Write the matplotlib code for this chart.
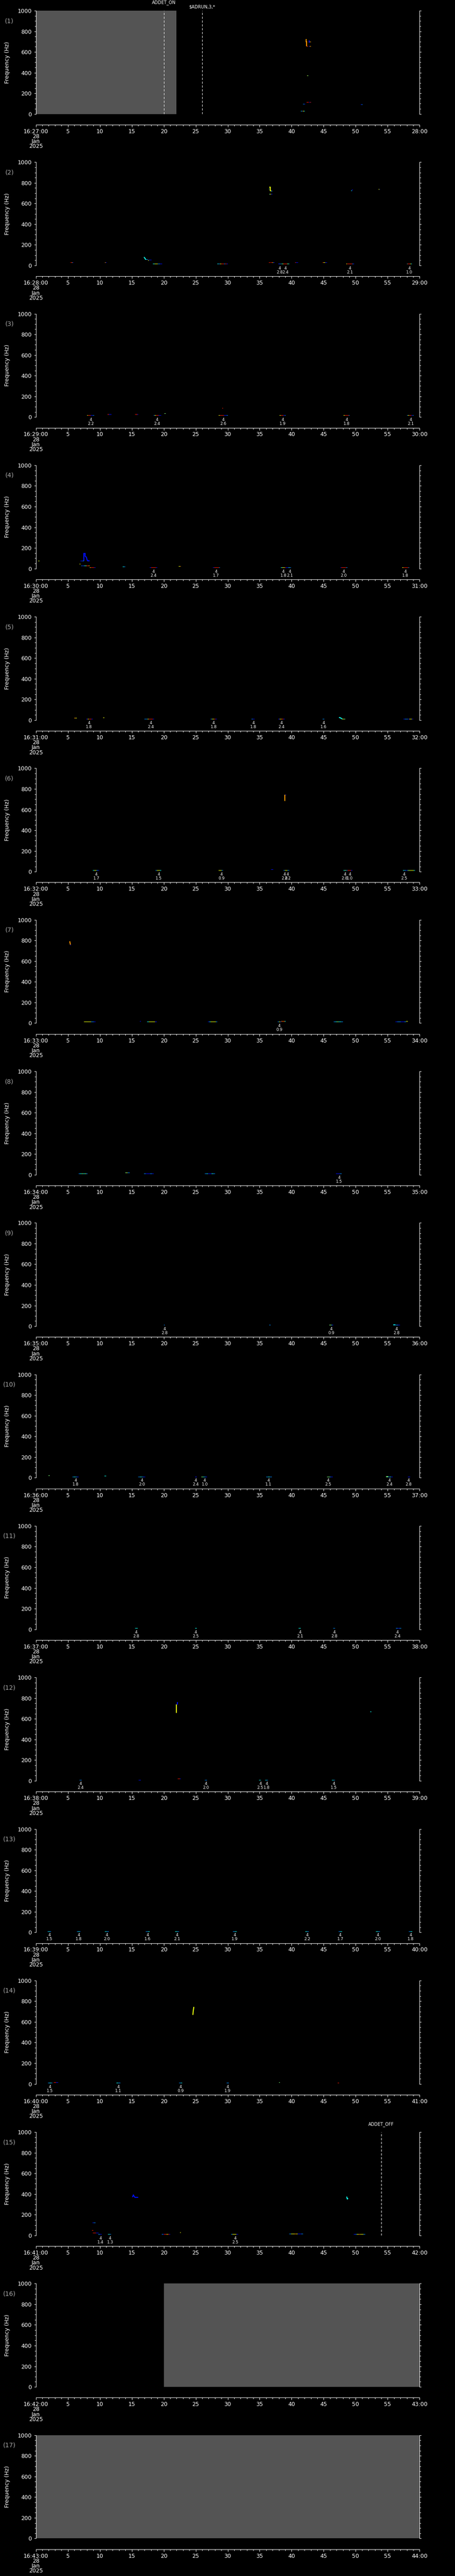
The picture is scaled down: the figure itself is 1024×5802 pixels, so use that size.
import matplotlib
matplotlib.use('Agg')
import matplotlib.pyplot as plt
from matplotlib.ticker import MultipleLocator

W, H, DPI = 1024, 5802, 100
NP = 17
PANEL_H = H / NP

# ---------------- data ----------------
minutes = list(range(27, 44))          # 16:27 ... 16:43, one panel per minute
date_lines = ['28', 'Jan', '2025']

# jet-colour codes for spectrogram cells
code_level = {'n': 0.06, 'b': 0.14, 'l': 0.26, 'c': 0.37, 'g': 0.50,
              'y': 0.63, 'o': 0.75, 'r': 0.88, 'd': 0.97}

# horizontal spectrogram blips: (panel, t_start[s], t_end[s], freq[Hz], colour codes)
blips = [
    (1, 41.4, 42.05, 27, 'cbyc'), (1, 41.8, 42.1, 97, 'lb'), (1, 42.3, 43.0, 113, 'rrdbr'),
    (1, 42.4, 42.6, 371, 'yg'), (1, 42.35, 42.55, 655, 'r'), (1, 42.7, 43.0, 655, 'bo'),
    (1, 42.85, 43.0, 695, 'o'), (1, 50.8, 51.1, 93, 'bl'),
    (2, 5.4, 5.86, 26, 'dryb'), (2, 10.8, 11.1, 30, 'ob'), (2, 17.2, 17.5, 57, 'cl'),
    (2, 17.5, 17.7, 50, 'y'), (2, 17.7, 18.1, 52, 'bb'), (2, 18.3, 19.75, 17, 'cgyyllbb'),
    (2, 28.4, 30.0, 17, 'clyrrlrb'), (2, 36.4, 36.5, 742, 'c'), (2, 36.8, 36.95, 720, 'l'),
    (2, 36.5, 36.95, 690, 'gyb'), (2, 36.45, 37.3, 27, 'rdryb'), (2, 37.9, 38.3, 17, 'bl'),
    (2, 38.4, 39.6, 17, 'cyrrrrgc'), (2, 40.5, 41.0, 26, 'rbb'), (2, 44.8, 45.5, 26, 'ryybb'),
    (2, 49.3, 49.5, 722, 'cb'), (2, 49.45, 49.55, 733, 'b'), (2, 53.6, 53.8, 739, 'yb'),
    (2, 48.5, 49.8, 17, 'yrrrrrlb'), (2, 58.0, 58.8, 17, 'crrryc'),
    (3, 8.0, 9.1, 15, 'yrrbbl'), (3, 11.2, 11.8, 25, 'rbb'), (3, 15.5, 16.0, 26, 'rrb'),
    (3, 18.4, 19.6, 15, 'lyrrbb'), (3, 20.1, 20.3, 32, 'g'), (3, 29.1, 29.3, 83, 'r'),
    (3, 28.6, 30.0, 15, 'yrrrbbl'), (3, 38.1, 39.1, 15, 'yrrbl'), (3, 48.1, 49.1, 15, 'yrrrl'),
    (3, 58.0, 59.1, 15, 'lyrrbl'),
    (4, 0.4, 0.6, 75, 'yg'), (4, 7.0, 7.5, 75, 'bbl'), (4, 6.85, 7.0, 43, 'y'),
    (4, 7.1, 8.4, 25, 'lblcgrro'), (4, 8.4, 9.3, 10, 'yrrrb'), (4, 13.6, 14.0, 19, 'cl'),
    (4, 17.8, 19.0, 10, 'brrrrb'), (4, 22.3, 22.7, 20, 'yo'), (4, 27.7, 28.8, 10, 'brrrrl'),
    (4, 38.3, 39.9, 10, 'cyyrbbcl'), (4, 47.6, 48.7, 10, 'brrrrl'), (4, 57.3, 58.4, 10, 'yrrrrl'),
    (5, 6.0, 6.4, 19, 'oy'), (5, 7.9, 8.9, 11, 'byrrb'), (5, 10.5, 10.7, 22, 'y'),
    (5, 17.0, 18.5, 11, 'llyrrrb'), (5, 27.3, 28.3, 11, 'lyyrb'), (5, 33.7, 34.2, 11, 'lb'),
    (5, 37.9, 38.9, 11, 'byorb'), (5, 44.8, 45.1, 11, 'l'), (5, 47.9, 48.4, 11, 'yg'),
    (5, 57.5, 59.0, 11, 'bllbyyb'),
    (6, 8.9, 9.9, 11, 'cyylb'), (6, 18.7, 19.6, 11, 'lyyc'), (6, 28.6, 29.3, 11, 'yyl'),
    (6, 36.8, 37.1, 22, 'b'), (6, 38.7, 39.6, 11, 'lyyl'), (6, 38.95, 39.15, 743, 'bb'),
    (6, 48.1, 49.5, 11, 'cglrrrb'), (6, 57.4, 59.3, 11, 'clbgyyyc'),
    (7, 5.35, 5.5, 758, 'b'), (7, 7.5, 9.3, 11, 'yyyyyllb'), (7, 16.3, 16.4, 19, 'b'),
    (7, 17.4, 18.9, 11, 'cyyyyb'), (7, 26.9, 28.4, 11, 'bcyyyyl'), (7, 37.8, 38.4, 11, 'lyb'),
    (7, 38.4, 39.1, 19, 'oroc'), (7, 46.6, 48.0, 11, 'lcgccl'), (7, 56.2, 57.9, 11, 'bllbbl'),
    (7, 57.9, 58.2, 19, 'y'),
    (8, 6.7, 8.1, 8, 'lcgcgl'), (8, 14.0, 14.7, 18, 'gyll'), (8, 16.9, 18.4, 8, 'lbbblb'),
    (8, 26.4, 28.0, 8, 'lcbbcl'), (8, 46.9, 47.8, 8, 'bbbl'),
    (9, 20.0, 20.2, 10, 'l'), (9, 36.5, 36.7, 10, 'l'), (9, 45.9, 46.5, 10, 'gglb'),
    (9, 55.9, 56.9, 10, 'cllb'), (9, 55.9, 56.2, 14, 'c'),
    (10, 2.0, 2.2, 20, 'g'), (10, 5.7, 6.7, 8, 'lclb'), (10, 10.7, 11.0, 15, 'c'),
    (10, 16.0, 17.1, 8, 'lclb'), (10, 24.9, 25.2, 8, 'b'), (10, 25.9, 26.8, 8, 'gclb'),
    (10, 36.0, 36.9, 8, 'lcl'), (10, 45.5, 46.4, 8, 'gglb'), (10, 54.8, 55.8, 8, 'glcb'),
    (10, 54.8, 55.1, 13, 'g'), (10, 58.2, 58.5, 8, 'b'),
    (11, 15.5, 15.9, 8, 'c'), (11, 24.9, 25.2, 8, 'c'), (11, 41.1, 41.4, 8, 'c'),
    (11, 46.5, 46.8, 8, 'l'), (11, 56.3, 57.1, 8, 'lbl'),
    (12, 6.8, 7.2, 8, 'l'), (12, 16.1, 16.4, 8, 'b'), (12, 22.2, 22.7, 19, 'rrb'),
    (12, 26.4, 26.8, 8, 'l'), (12, 34.9, 35.2, 8, 'c'), (12, 35.9, 36.3, 8, 'cl'),
    (12, 46.3, 46.8, 8, 'cl'), (12, 52.3, 52.5, 670, 'c'),
    (13, 1.8, 2.4, 8, 'lcl'), (13, 6.4, 7.0, 8, 'lcl'), (13, 10.8, 11.4, 8, 'cl'),
    (13, 17.2, 17.8, 8, 'lc'), (13, 21.8, 22.4, 8, 'cl'), (13, 30.8, 31.4, 8, 'lc'),
    (13, 42.1, 42.7, 8, 'cl'), (13, 47.3, 47.9, 8, 'lc'), (13, 53.2, 53.8, 8, 'cl'),
    (13, 58.3, 58.9, 8, 'lc'),
    (14, 1.9, 2.6, 8, 'lcl'), (14, 2.8, 3.5, 15, 'rb'), (14, 12.6, 13.2, 8, 'cl'),
    (14, 22.4, 22.9, 8, 'lc'), (14, 29.8, 30.2, 8, 'l'), (14, 38.0, 38.15, 14, 'g'),
    (14, 47.2, 47.4, 10, 'r'),
    (15, 8.85, 9.3, 123, 'bl'), (15, 8.8, 8.95, 50, 'r'), (15, 8.9, 9.85, 23, 'rrbb'),
    (15, 9.75, 10.3, 11, 'lb'), (15, 11.3, 11.75, 11, 'cl'), (15, 19.7, 21.0, 11, 'lbrroyrb'),
    (15, 22.5, 22.65, 27, 'y'), (15, 30.5, 31.6, 11, 'lyyyb'), (15, 39.6, 41.8, 15, 'lyyoybbl'),
    (15, 49.7, 51.5, 11, 'blyoyyl'),
]

# frequency tracks (chirps): (panel, colour code, times, freqs)
tracks = [
    (1, 'o', [42.2, 42.25, 42.25, 42.35, 42.35], [720, 720, 700, 700, 655]),
    (1, 'b', [42.72, 42.72, 42.85], [712, 695, 695]),
    (2, 'c', [16.9, 17.0, 17.1, 17.2], [81, 75, 65, 57]),
    (2, 'y', [36.5, 36.65, 36.65, 36.8], [758, 758, 725, 722]),
    (4, 'b', [7.5, 7.5, 7.7, 7.7, 7.9, 8.0, 8.1, 8.4], [75, 146, 146, 120, 110, 85, 75, 75]),
    (5, 'c', [47.4, 47.6, 47.8, 47.9], [26, 22, 15, 11]),
    (6, 'o', [38.95, 38.95], [685, 743]),
    (7, 'o', [5.3, 5.35, 5.4], [792, 775, 760]),
    (12, 'y', [22.0, 22.0], [657, 737]),
    (12, 'b', [22.1, 22.15], [737, 762]),
    (14, 'y', [24.55, 24.6, 24.7], [667, 700, 745]),
    (15, 'b', [15.1, 15.25, 15.4, 15.5, 16.0], [370, 390, 375, 368, 368]),
    (15, 'c', [48.6, 48.7, 48.8], [375, 350, 360]),
]

# detection notes below the panels: (panel, time, value)  -> "4" over value
notes = [
    (2, 38.1, '2.8'), (2, 39.0, '2.4'), (2, 49.1, '2.1'), (2, 58.4, '1.0'),
    (3, 8.6, '2.2'), (3, 18.95, '2.4'), (3, 29.3, '2.6'), (3, 38.6, '1.9'), (3, 48.6, '1.8'),
    (3, 58.6, '2.1'),
    (4, 18.4, '2.4'), (4, 28.2, '1.7'), (4, 38.7, '1.8'), (4, 39.7, '2.1'), (4, 48.1, '2.0'),
    (4, 57.8, '1.8'),
    (5, 8.3, '1.8'), (5, 18.0, '2.4'), (5, 27.8, '1.8'), (5, 34.0, '1.8'), (5, 38.4, '2.4'),
    (5, 45.0, '1.6'),
    (6, 9.45, '1.7'), (6, 19.2, '1.5'), (6, 29.0, '0.9'), (6, 38.9, '2.8'), (6, 39.4, '2.2'),
    (6, 48.3, '2.8'), (6, 49.1, '1.0'), (6, 57.6, '2.5'),
    (7, 38.05, '0.9'),
    (8, 47.4, '1.5'),
    (9, 20.1, '2.8'), (9, 46.2, '0.9'), (9, 56.4, '2.8'),
    (10, 6.2, '1.8'), (10, 16.6, '2.0'), (10, 25.0, '2.4'), (10, 26.4, '1.0'), (10, 36.4, '1.1'),
    (10, 45.7, '2.5'), (10, 55.3, '2.4'), (10, 58.3, '2.8'),
    (11, 15.7, '2.8'), (11, 25.0, '2.5'), (11, 41.3, '2.1'), (11, 46.7, '2.8'), (11, 56.5, '2.4'),
    (12, 7.0, '2.4'), (12, 26.6, '2.0'), (12, 35.1, '2.5'), (12, 36.1, '1.8'), (12, 46.6, '1.5'),
    (13, 2.1, '1.5'), (13, 6.7, '1.8'), (13, 11.1, '2.0'), (13, 17.5, '1.6'), (13, 22.1, '2.1'),
    (13, 31.1, '1.9'), (13, 42.4, '2.2'), (13, 47.6, '1.7'), (13, 53.5, '2.0'), (13, 58.6, '1.8'),
    (14, 2.2, '1.5'), (14, 12.9, '1.1'), (14, 22.65, '0.9'), (14, 30.0, '1.9'),
    (15, 10.1, '1.4'), (15, 11.6, '1.3'), (15, 31.2, '2.5'),
]

# no-data (grey) intervals: (panel, t_start, t_end)
gaps = [(1, 0, 22.0), (16, 20.0, 60.0), (17, 0.0, 60.0)]

# event markers: (panel, time, label, label row)
events = [(1, 20.0, 'ADDET_ON', 0), (1, 26.0, '$ADRUN,3,*', 1), (15, 54.0, 'ADDET_OFF', 0)]

# ---------------- drawing ----------------
cmap = plt.get_cmap('jet')
GREY = '#545454'
px2pt = 72.0 / DPI
HZ_PER_PX = 1000.0 / 232.7

fig = plt.figure(figsize=(W / DPI, H / DPI), dpi=DPI, facecolor='black')

for i, mnt in enumerate(minutes):
    pnum = i + 1
    off = i * PANEL_H
    top, bot = off + 24.0, off + 256.7
    ax = fig.add_axes([80.7 / W, 1 - bot / H, 863.6 / W, (bot - top) / H])
    ax.set_facecolor('black')
    ax.set_xlim(0, 60)
    ax.set_ylim(0, 1000)
    ax.spines['top'].set_visible(False)
    for s in ('left', 'right', 'bottom'):
        ax.spines[s].set_color('white')
        ax.spines[s].set_linewidth(1.0 * px2pt)
    ax.spines['bottom'].set_position(('outward', 24.3 * px2pt))

    # y axis
    ax.yaxis.set_major_locator(MultipleLocator(200))
    ax.yaxis.set_minor_locator(MultipleLocator(50))
    ax.tick_params(axis='y', which='major', direction='out', length=4 * px2pt,
                   width=1 * px2pt, colors='white', labelsize=9, left=True, right=True,
                   labelleft=True, labelright=False, pad=4)
    ax.tick_params(axis='y', which='minor', direction='out', length=2.7 * px2pt,
                   width=1 * px2pt, colors='white', left=True, right=True)
    ax.set_ylabel('Frequency (Hz)', color='white', fontsize=9)
    ax.yaxis.set_label_coords(-0.0668, 0.5)

    # x axis
    xt = list(range(0, 61, 5))
    xl = ['16:%02d:00\n' % mnt + '\n'.join(date_lines)] + [str(v) for v in xt[1:-1]] + \
         ['%02d:00' % (mnt + 1)]
    ax.set_xticks(xt, xl)
    ax.xaxis.set_minor_locator(MultipleLocator(1))
    ax.tick_params(axis='x', which='major', direction='out', length=4.7 * px2pt,
                   width=1 * px2pt, colors='white', labelsize=9, pad=3)
    ax.tick_params(axis='x', which='minor', direction='out', length=2.7 * px2pt,
                   width=1 * px2pt, colors='white')
    for lab in ax.get_xticklabels():
        lab.set_linespacing(0.82)

    # panel number
    ax.text(-0.069, 0.901, '(%d)' % pnum, transform=ax.transAxes, color='#a8a8a8',
            fontsize=10, ha='center', va='center')

    # grey no-data spans
    for p, t0, t1 in gaps:
        if p == pnum:
            ax.axvspan(t0, t1, color=GREY, lw=0, zorder=0.5)

    # blips
    for p, t0, t1, f, codes in blips:
        if p != pnum:
            continue
        dt = (t1 - t0) / len(codes)
        for k, c in enumerate(codes):
            ax.broken_barh([(t0 + k * dt, dt)], (f - 2.2, 4.4),
                           facecolors=cmap(code_level[c]), lw=0, antialiased=False, zorder=2)

    # tracks
    for p, c, ts, fs in tracks:
        if p == pnum:
            ax.plot(ts, fs, color=cmap(code_level[c]), lw=1.6, solid_capstyle='butt',
                    solid_joinstyle='miter', zorder=3)

    # notes
    for p, t, v in notes:
        if p == pnum:
            ax.text(t, -6.5 * HZ_PER_PX, '4', color='white', fontsize=6.5, ha='center',
                    va='center', clip_on=False)
            ax.text(t, -15.5 * HZ_PER_PX, v, color='white', fontsize=6.5, ha='center',
                    va='center', clip_on=False)

    # events
    for p, t, lab, row in events:
        if p == pnum:
            ax.axvline(t, color='white', lw=1.0 * px2pt, ls=(0, (5, 3.6)), zorder=4)
            yy = 1000 + (18 if row == 0 else 9) * HZ_PER_PX
            ax.text(t, yy, lab, color='white', fontsize=7, ha='center', va='center',
                    clip_on=False, parse_math=False)

fig.savefig('out.png', dpi=DPI, facecolor='black')
